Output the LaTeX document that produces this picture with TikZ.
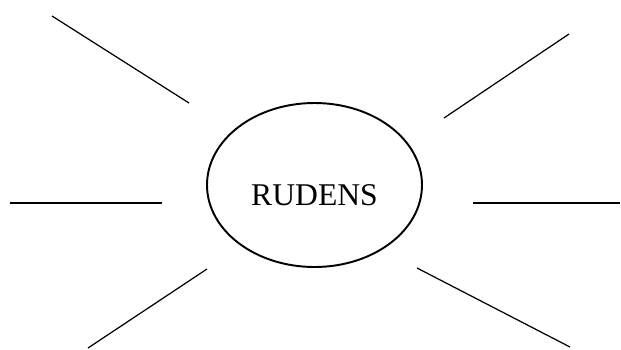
\documentclass[tikz,border=0pt]{standalone}
\usepackage{fontspec}
\setmainfont{Liberation Serif}
\usetikzlibrary{shapes.geometric}

\begin{document}
\begin{tikzpicture}[
        hub/.style={
            ellipse,
            draw,
            line width=1.1pt,
            minimum width=4.30cm,
            minimum height=3.28cm,
            text height=0.8cm,
            text depth=0pt,
            font=\fontsize{18}{20}\selectfont,
            inner sep=0pt,
            outer sep=0pt
        },
        ray/.style={
            line width=0.7pt
        }
    ]

        \useasboundingbox (0,0) rectangle (12.42,-6.98);

        \node[hub] (rudens) at (6.29,-3.70) {RUDENS};

        % free ends of the rays
        \coordinate (ulin) at (3.78,-2.06);
        \coordinate (ulout) at (1.04,-0.32);
        \coordinate (urin) at (8.88,-2.36);
        \coordinate (urout) at (11.38,-0.68);
        \coordinate (lin) at (3.24,-4.06);
        \coordinate (lout) at (0.20,-4.06);
        \coordinate (rin) at (9.46,-4.06);
        \coordinate (rout) at (12.40,-4.06);
        \coordinate (llin) at (4.14,-5.38);
        \coordinate (llout) at (1.76,-6.96);
        \coordinate (lrin) at (8.34,-5.36);
        \coordinate (lrout) at (11.40,-6.94);

        \draw[ray] (ulin) -- (ulout);
        \draw[ray] (urin) -- (urout);
        \draw[ray] (lin) -- (lout);
        \draw[ray] (rin) -- (rout);
        \draw[ray] (llin) -- (llout);
        \draw[ray] (lrin) -- (lrout);

    \end{tikzpicture}
\end{document}
